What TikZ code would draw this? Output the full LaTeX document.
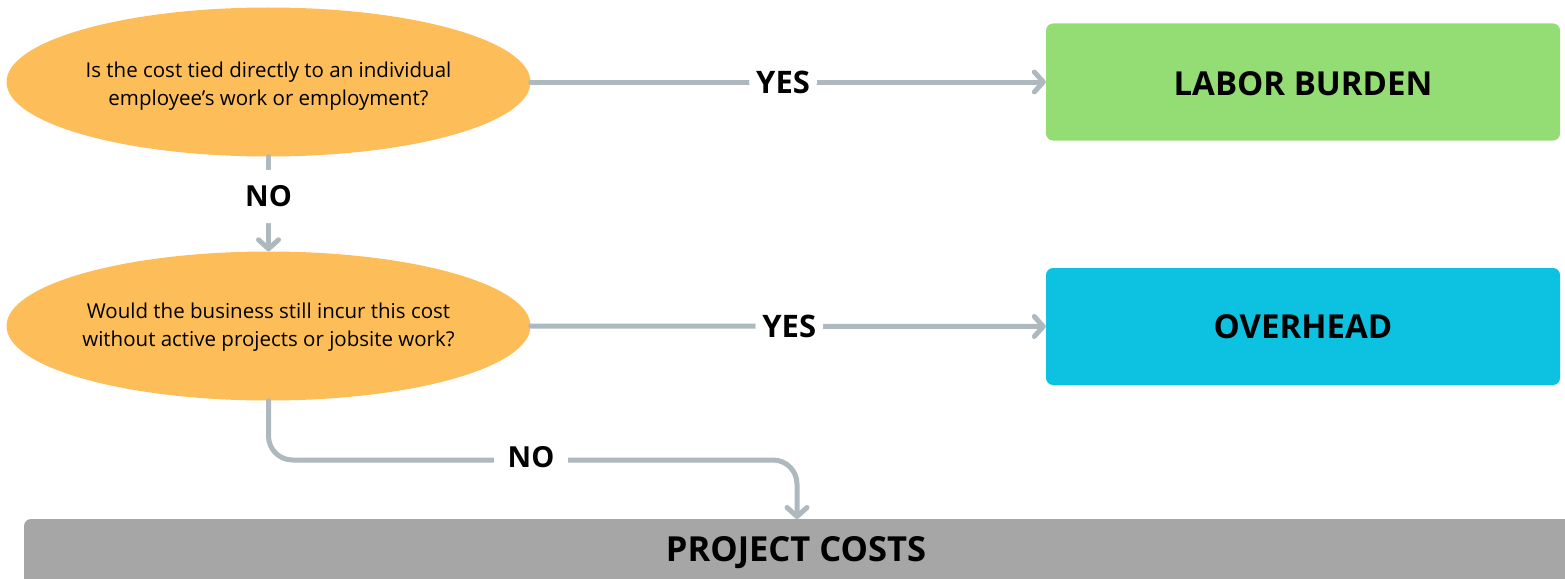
\documentclass[tikz,border=0pt]{standalone}
\usepackage{fontspec}
\setmainfont{Open Sans}
\usetikzlibrary{arrows.meta,shapes.geometric}
\definecolor{qorange}{HTML}{FDBE5A}
\definecolor{lgreen}{HTML}{94DC74}
\definecolor{lcyan}{HTML}{0DC2E0}
\definecolor{pgray}{HTML}{A6A6A6}
\definecolor{lgray}{HTML}{ADB8BF}
\tikzset{
  question/.style={ellipse, fill=qorange, minimum width=524pt, minimum height=149pt, inner sep=-40pt, font=\fontsize{20.5}{28}\selectfont},
  outbox/.style={rectangle, rounded corners=7pt, minimum width=514pt, minimum height=117pt, inner sep=0pt, font=\fontsize{33}{36}\selectfont\bfseries},
  conn/.style={draw=lgray, line width=5pt, line cap=round, rounded corners=24pt},
  arr/.style={conn, -{Straight Barb[round, length=9pt, width=20pt, line width=5pt]}},
  lab/.style={fill=white, inner xsep=7pt, inner ysep=12pt, font=\fontsize{31}{34}\selectfont\bfseries},
  labno/.style={fill=white, inner xsep=14pt, inner ysep=12pt, font=\fontsize{29}{32}\selectfont\bfseries},
}
\begin{document}
\begin{tikzpicture}[x=1pt,y=-1pt]
\useasboundingbox (0,0) rectangle (1565,578);
\clip (0,0) rectangle (1565,578);
\node[question] (q1) at (268.5,82) {\raisebox{-4pt}[\height][\depth]{\begin{tabular}{c}Is the cost tied directly to an individual\\employee’s work or employment?\end{tabular}}};
\node[question] (q2) at (268.5,326) {\raisebox{-1pt}[\height][\depth]{\begin{tabular}{c}Would the business still incur this cost\\without active projects or jobsite work?\end{tabular}}};
\node[outbox, fill=lgreen] (lb) at (1303,82) {\raisebox{-2pt}[\height][\depth]{LABOR BURDEN}};
\node[outbox, fill=lcyan] (oh) at (1303,326.5) {OVERHEAD};
\fill[pgray, rounded corners=7pt] (24,519) rectangle (1600,600);
\node[font=\fontsize{34.5}{36}\selectfont\bfseries] (pc) at (796,553) {PROJECT COSTS};
\coordinate (pctop) at (797,519);
\coordinate (bend1) at (268.5,460);
\coordinate (bend2) at (797,460);
% connectors
\draw[arr] (q1.east) -- (lb.west) node[lab, pos=0.49] {YES};
\draw[arr] (q2.east) -- (oh.west) node[lab, pos=0.502] {YES};
\draw[arr] (q1.south) -- (q2.north) node[labno, inner xsep=8pt, inner ysep=16pt, pos=0.42] {NO};
\draw[arr] (q2.south) -- (bend1) -- (bend2) -- (pctop);
\node[labno] (no2) at (531,457) {NO};
\end{tikzpicture}
\end{document}
